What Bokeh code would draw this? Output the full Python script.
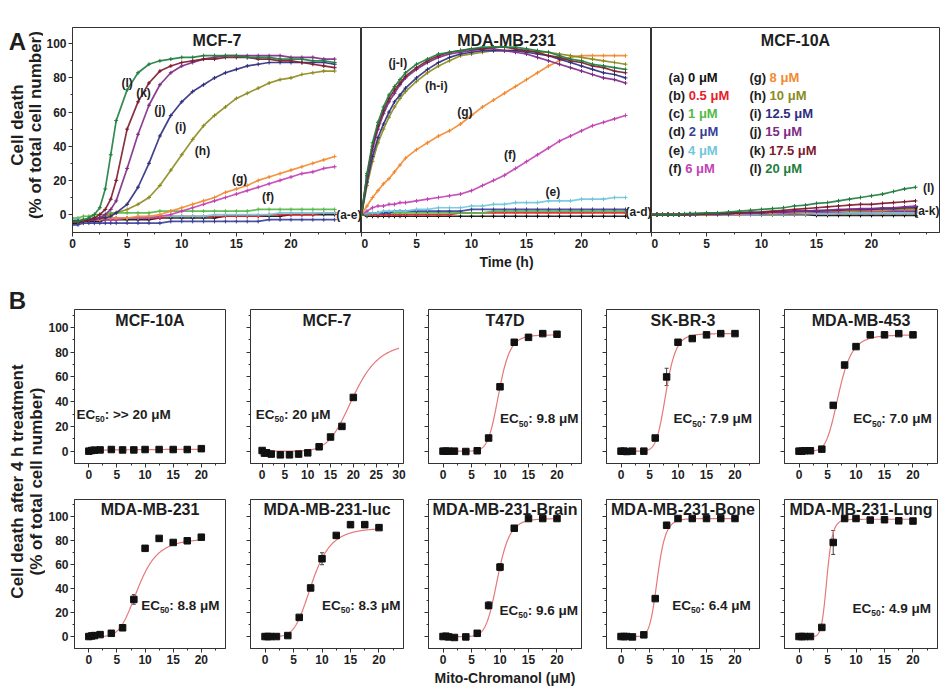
import numpy as np
from bokeh.plotting import figure
from bokeh.layouts import row, column
from bokeh.models import Range1d, FixedTicker, ColumnDataSource, Whisker, TeeHead
from bokeh.core.properties import value
from bokeh.embed import file_html
from bokeh.resources import INLINE

FONT = "Liberation Sans"
INK = "#1e1e1e"

# ------------------------------------------------------------------ data (panel A)
TIME = [0, 0.5, 1, 1.5, 2, 2.5, 3, 3.5, 4, 5, 6, 7, 8, 9, 10, 11, 12, 13, 14,
        15, 16, 17, 18, 19, 20, 21, 22, 23, 24]
SERIES_LETTERS = ["a", "b", "c", "d", "e", "f", "g", "h", "i", "j", "k", "l"]
CONC_LABELS = ["0 μM", "0.5 μM", "1 μM", "2 μM", "4 μM", "6 μM", "8 μM",
               "10 μM", "12.5 μM", "15 μM", "17.5 μM", "20 μM"]
SERIES_COLORS = ["#111111", "#e8202a", "#55b848", "#3b3f9a", "#72c6dc", "#c342b5",
                 "#f28a30", "#8b8b1e", "#2e2e7e", "#7e2a86", "#7e1a2e", "#1f7d3e"]

MCF7_a = [-5, -5, -4, -4, -4, -4, -3, -3, -3, -3, -3, -3, -2, -2, -2, -2, -2, -2, -1, -1, -1, -1, -1, -1, 0, 0, 0, 0, 0]
MCF7_b = [-3, -3, -3, -3, -2, -2, -2, -2, -2, -2, -2, -2, -2, -1, -1, -1, -1, -1, -1, -1, -1, -1, 0, 0, 0, 0, 0, 1, 1]
MCF7_c = [-2, -2, -1, -1, 0, 0, 0, 1, 1, 1, 1, 1, 2, 2, 2, 2, 2, 2, 2, 2, 2, 3, 3, 3, 3, 3, 3, 3, 3]
MCF7_d = [-6, -6, -5, -5, -5, -5, -5, -5, -5, -5, -5, -5, -5, -4, -4, -4, -4, -4, -4, -4, -4, -4, -3, -3, -3, -3, -3, -3, -3]
MCF7_e = [-3, -3, -3, -3, -2, -2, -2, -2, -2, -2, -2, -1, -1, -1, -1, -1, -1, 0, 0, 0, 0, 0, 0, 1, 1, 1, 1, 1, 1]
MCF7_f = [-4, -4, -4, -3, -3, -3, -3, -3, -3, -2, -2, -2, -1, 0, 2, 4, 6, 8, 10, 12, 14, 16, 18, 20, 22, 24, 25, 27, 28]
MCF7_g = [-4, -4, -3, -3, -3, -3, -2, -2, -2, -2, -1, -1, 0, 2, 4, 6, 8, 10, 13, 15, 17, 20, 22, 24, 26, 28, 30, 32, 34]
MCF7_h = [-4, -4, -3, -3, -2, -2, -1, 0, 1, 3, 6, 10, 17, 26, 35, 44, 52, 58, 63, 68, 71, 74, 77, 79, 80, 82, 83, 84, 84]
MCF7_i = [-4, -4, -4, -3, -3, -2, -2, -1, 1, 6, 16, 30, 46, 58, 66, 72, 76, 80, 83, 85, 87, 88, 89, 89, 89, 89, 89, 89, 88]
MCF7_j = [-4, -4, -4, -3, -3, -2, 0, 3, 8, 27, 47, 64, 76, 83, 87, 89, 91, 92, 93, 93, 93, 93, 93, 93, 92, 92, 92, 91, 91]
MCF7_k = [-4, -4, -4, -3, -2, 0, 3, 9, 20, 50, 66, 77, 84, 87, 89, 90, 91, 91, 92, 92, 92, 91, 91, 90, 90, 89, 88, 87, 86]
MCF7_l = [-4, -4, -3, -2, 0, 4, 15, 35, 55, 73, 83, 88, 90, 91, 92, 92, 93, 93, 93, 93, 92, 92, 92, 91, 91, 91, 90, 90, 89]

MDA_a = [0, -1, -1, -1, -1, -1, -1, -1, -1, -1, -1, -1, -1, -1, -1, -1, -1, -1, -1, -1, -1, -1, -1, -1, -1, -1, -1, -1, -1]
MDA_b = [0, 0, 0, 0, 0, 0, 0, 0, 0, 0, 0, 0, 0, 1, 1, 1, 1, 1, 1, 1, 1, 1, 1, 1, 1, 1, 1, 1, 1]
MDA_c = [0, 0, 1, 1, 1, 1, 1, 1, 1, 1, 1, 1, 1, 1, 1, 1, 2, 2, 2, 2, 2, 2, 2, 2, 2, 2, 2, 2, 2]
MDA_d = [0, 1, 1, 1, 1, 1, 2, 2, 2, 2, 2, 2, 2, 2, 3, 3, 3, 3, 3, 3, 3, 3, 3, 3, 3, 3, 3, 3, 3]
MDA_e = [0, 1, 1, 1, 2, 2, 2, 2, 2, 3, 3, 4, 4, 4, 5, 5, 6, 6, 7, 7, 7, 8, 8, 8, 9, 9, 9, 10, 10]
MDA_f = [0, 2, 4, 5, 5, 6, 6, 7, 7, 8, 9, 10, 11, 12, 14, 17, 20, 23, 27, 31, 35, 39, 43, 46, 49, 52, 54, 56, 58]
MDA_g = [0, 5, 10, 14, 18, 21, 25, 29, 33, 38, 42, 46, 49, 53, 58, 63, 67, 71, 75, 79, 83, 87, 90, 92, 93, 93, 93, 93, 93]
MDA_h = [0, 17, 31, 42, 50, 57, 63, 68, 72, 78, 83, 87, 90, 93, 94, 95, 96, 96, 96, 96, 95, 95, 94, 93, 92, 91, 90, 89, 88]
MDA_i = [0, 19, 34, 45, 53, 60, 66, 70, 74, 80, 85, 89, 92, 94, 95, 96, 96, 96, 96, 95, 94, 93, 91, 89, 87, 85, 83, 82, 80]
MDA_j = [0, 22, 38, 50, 59, 66, 71, 76, 80, 85, 89, 92, 94, 95, 96, 97, 97, 96, 95, 94, 92, 90, 88, 86, 84, 82, 80, 79, 77]
MDA_k = [0, 23, 40, 52, 61, 68, 73, 77, 81, 86, 90, 93, 95, 96, 97, 97, 98, 98, 97, 96, 95, 93, 92, 90, 89, 87, 86, 84, 83]
MDA_l = [0, 24, 42, 54, 63, 70, 75, 79, 83, 88, 91, 94, 95, 96, 97, 98, 98, 98, 98, 97, 96, 95, 93, 91, 90, 88, 87, 86, 85]

MCF10A_a = [0, 0, 0, 0, 0, 0, 0, 0, 0, 0, 0, 0, 0, 0, 0, 0, 0, 0, 0, -0.5, -0.5, -0.5, -0.5, -0.5, -0.5, -0.5, -0.5, -0.5, -0.5]
MCF10A_b = [0, 0, 0, 0, 0, 0, 0, 0, 0, 0, 0, 0, 0, 0.5, 0.5, 0.5, 0.5, 0.5, 0.5, 0.5, 1, 1, 1, 1, 1, 1, 1, 1, 1]
MCF10A_c = [0, 0, 0, 0, 0, 0, 0, 0, 0, 0, 0, 0, 0.5, 0.5, 0.5, 0.5, 0.5, 1, 1, 1, 1, 1, 1, 1.5, 1.5, 1.5, 1.5, 1.5, 1.5]
MCF10A_d = [0, 0, 0, 0, 0, 0, 0, 0, 0, 0, 0, 0.5, 0.5, 0.5, 0.5, 1, 1, 1, 1, 1, 1.5, 1.5, 1.5, 1.5, 1.5, 2, 2, 2, 2]
MCF10A_e = [0, 0, 0, 0, 0, 0, 0, 0, 0, 0, 0, 0, 0, 0, 0.5, 0.5, 0.5, 0.5, 0.5, 0.5, 0.5, 1, 1, 1, 1, 1, 1, 1, 1]
MCF10A_f = [0, 0, 0, 0, 0, 0, 0, 0, 0, 0, 0, 0.5, 0.5, 0.5, 1, 1, 1, 1, 1.5, 1.5, 1.5, 1.5, 2, 2, 2, 2, 2.5, 2.5, 2.5]
MCF10A_g = [0, 0, 0, 0, 0, 0, 0, 0, 0, 0, 0.5, 0.5, 0.5, 1, 1, 1, 1.5, 1.5, 1.5, 2, 2, 2, 2, 2.5, 2.5, 2.5, 3, 3, 3]
MCF10A_h = [0, 0, 0, 0, 0, 0, 0, 0, 0, 0, 0.5, 0.5, 1, 1, 1, 1.5, 1.5, 1.5, 2, 2, 2, 2.5, 2.5, 2.5, 3, 3, 3, 3.5, 3.5]
MCF10A_i = [0, 0, 0, 0, 0, 0, 0, 0, 0, 0.5, 0.5, 0.5, 1, 1, 1, 1.5, 1.5, 2, 2, 2, 2.5, 2.5, 3, 3, 3, 3.5, 3.5, 4, 4]
MCF10A_j = [0, 0, 0, 0, 0, 0, 0, 0, 0.5, 0.5, 0.5, 0.5, 1, 1, 1, 1.5, 1.5, 2, 2, 2.5, 2.5, 3, 3, 3.5, 3.5, 4, 4, 4.5, 5]
MCF10A_k = [0, 0, 0, 0, 0, 0, 0, 0.5, 0.5, 0.5, 0.5, 1, 1, 1.5, 1.5, 2, 2.5, 3, 3.5, 4, 4.5, 5, 5.5, 6, 6, 6.5, 7, 7.5, 8]
MCF10A_l = [0, 0, 0, 0, 0, 0, 0.5, 0.5, 0.5, 1, 1, 1.5, 2, 2.5, 3, 3.5, 4, 5, 5.5, 6.5, 7, 8, 9, 10, 11, 12, 13.5, 15, 16]

A_PANEL_TITLES = ["MCF-7", "MDA-MB-231", "MCF-10A"]
A_X_TICKS = [0, 5, 10, 15, 20]
A_X_MINOR = [2.5, 7.5, 12.5, 17.5, 22.5, 25]
A_Y_TICKS = [0, 20, 40, 60, 80, 100]
A_Y_MINOR = [10, 30, 50, 70, 90]

# curve annotations (text, t, value) per panel
A_NOTES_MCF7 = ["(l)", "(k)", "(j)", "(i)", "(h)", "(g)", "(f)"]
A_NOTES_MCF7_T = [5.0, 6.5, 8.0, 9.9, 11.9, 15.3, 17.9]
A_NOTES_MCF7_V = [77, 71, 61, 51, 37, 21, 10]
A_NOTES_MDA = ["(j-l)", "(h-i)", "(g)", "(f)", "(e)"]
A_NOTES_MDA_T = [3.3, 6.8, 9.4, 13.5, 17.4]
A_NOTES_MDA_V = [89, 75, 60, 35, 13]

# ------------------------------------------------------------------ data (panel B)
CONC = [0, 0.5, 1, 2, 4, 6, 8, 10, 12.5, 15, 17.5, 20]
B_TITLES = ["MCF-10A", "MCF-7", "T47D", "SK-BR-3", "MDA-MB-453",
            "MDA-MB-231", "MDA-MB-231-luc", "MDA-MB-231-Brain", "MDA-MB-231-Bone", "MDA-MB-231-Lung"]
B_MCF10A = [0, 0.5, 0.8, 1, 1.3, 1, 1, 1.3, 1.3, 1.3, 1.3, 2]
B_MCF7 = [0.5, -1.6, -1.4, -2.4, -3, -3, -2.4, -1.4, 3.5, 11.4, 20, 43.4]
B_T47D = [0, 0, 0, 0, -0.3, 0.3, 10.6, 52, 88, 92, 95, 94.5]
B_SKBR3 = [0, 0, -0.3, 0, 0, 10.6, 60, 88, 91, 94, 95, 95]
B_MDA453 = [0, 0, 0.3, 0.3, 1.6, 37, 69.6, 84.5, 94, 94, 95, 94]
B_MDA231 = [0, 0.5, 0.8, 1.6, 2.7, 7.3, 31, 73.7, 82, 78.6, 80, 83]
B_LUC = [0, 0, 0, 0, 0.8, 16, 40.6, 65, 84.5, 93.5, 93.5, 91]
B_BRAIN = [0, 0.3, -0.3, -0.8, -0.3, 2.7, 26, 58, 90.5, 98.6, 98.6, 98.6]
B_BONE = [0, 0, 0, -0.3, 1.4, 31.7, 93, 98.6, 98.6, 98.6, 98.6, 98.6]
B_LUNG = [0, 0, 0, 0, 7.6, 78.6, 98.6, 98.6, 97.3, 97.6, 96.7, 96.5]

E_MCF10A = [0.5, 0.5, 0.5, 0.5, 0.5, 0.5, 0.5, 0.5, 0.5, 0.5, 0.5, 0.5]
E_MCF7 = [1, 1, 1, 0.5, 0.5, 0.5, 0.5, 1, 1, 1.5, 1.5, 1]
E_T47D = [0.5, 0.5, 0.5, 0.5, 0.5, 0.5, 1, 1, 1, 1, 1, 1]
E_SKBR3 = [0.5, 0.5, 0.5, 0.5, 0.5, 1, 7, 1, 1, 1, 1, 1]
E_MDA453 = [0.5, 0.5, 0.5, 0.5, 0.5, 1, 1.5, 1, 1, 1, 1, 1]
E_MDA231 = [0.5, 0.5, 0.5, 0.5, 0.5, 1, 4, 2, 1, 1, 1, 1]
E_LUC = [0.5, 0.5, 0.5, 0.5, 0.5, 1, 1.5, 5, 1.5, 1, 1, 1]
E_BRAIN = [0.5, 0.5, 0.5, 0.5, 0.5, 1, 3, 3, 2, 1, 1, 1]
E_BONE = [0.5, 0.5, 0.5, 0.5, 0.5, 1, 1, 1, 1, 1, 1, 1]
E_LUNG = [0.5, 0.5, 0.5, 0.5, 1.5, 10, 1, 1, 1, 1, 1, 1]

# four-parameter logistic fit parameters
FIT_BOTTOM = [0.3, 0, 0, 0, 0, 0, 0, 0, 0, 0]
FIT_TOP = [1.8, 88, 94, 95, 94, 82, 91, 98.6, 98.6, 98]
FIT_EC50 = [6, 20, 9.8, 7.9, 7.0, 8.8, 8.3, 9.6, 6.4, 4.9]
FIT_HILL = [1, 7, 10, 9, 6, 5, 5, 9, 9, 10]
FIT_XMAX = [20, 30, 20, 20, 20, 20, 20, 20, 20, 20]

EC50_TEXT = [">> 20 μM", "20 μM", "9.8 μM", "7.9 μM", "7.0 μM",
             "8.8 μM", "8.3 μM", "9.6 μM", "6.4 μM", "4.9 μM"]
EC50_X = [-2.2, -1.4, 10.0, 9.2, 9.5, 9.3, 10.0, 9.9, 9.0, 9.4]
EC50_Y = [30, 30, 26, 26, 26, 26, 26, 22, 26, 23.6]

B_X_TICKS = [0, 5, 10, 15, 20]
B_X_MINOR = [2.5, 7.5, 12.5, 17.5, 22.5]
B_X_TICKS_WIDE = [0, 5, 10, 15, 20, 25, 30]
B_X_MINOR_WIDE = [2.5, 7.5, 12.5, 17.5, 22.5, 27.5]
B_Y_TICKS = [0, 20, 40, 60, 80, 100]
B_Y_MINOR = [10, 30, 50, 70, 90, 110]

# ------------------------------------------------------------------ layout constants
LAB_W_A, LAB_W_B = 43, 45
H_A, A_TOP, A_BOTTOM = 272, 27, 40
A_FRAMES = [291, 290, 288]
PX_PER_H = 11.0
A_YRANGE = (-10.5, 109.5)
B_FRAME_W, B_FRAME_H = 153, 154
B_XRANGE = (-2.55, 24.3)
B_XRANGE_WIDE = (-2.55, 31.0)
B_YRANGE = (-10, 114.5)
B_ROW_BORDERS = [(37, 22), (14, 35)]


def style_axes(p):
    for ax in list(p.xaxis) + list(p.yaxis):
        ax.major_label_text_font = FONT
        ax.major_label_text_font_style = "bold"
        ax.major_label_text_font_size = "12px"
        ax.major_label_text_color = INK
        ax.major_label_standoff = 2
        ax.major_tick_in = 0
        ax.major_tick_out = 4
        ax.minor_tick_in = 0
        ax.minor_tick_out = 2
        ax.axis_line_color = "#333333"
        ax.major_tick_line_color = "#333333"
        ax.minor_tick_line_color = "#333333"
        ax.axis_label_text_font = FONT
        ax.axis_label_text_font_style = "bold"
        ax.axis_label_text_font_size = "14px"
        ax.axis_label_text_color = INK
        ax.axis_label_standoff = 3


def base_style(p):
    p.xgrid.grid_line_color = None
    p.ygrid.grid_line_color = None
    p.outline_line_color = "#333333"
    p.outline_line_width = 1
    p.background_fill_color = "white"
    p.border_fill_color = "white"


def add_text(p, xs, ys, texts, size, color=INK, align="left", baseline="middle",
             angle=0.0, x_offset=0, y_offset=0):
    src = ColumnDataSource(dict(x=xs, y=ys, text=texts))
    p.text(x="x", y="y", text="text", source=src, text_font=value(FONT),
           text_font_style="bold", text_font_size=value(size), text_color=color,
           text_align=align, text_baseline=baseline, angle=angle,
           x_offset=x_offset, y_offset=y_offset)


def label_figure(width, height):
    p = figure(width=width, height=height, x_range=Range1d(0, width), y_range=Range1d(0, height),
               output_backend="svg", toolbar_location=None, x_axis_location=None,
               y_axis_location=None, min_border=0)
    p.xgrid.grid_line_color = None
    p.ygrid.grid_line_color = None
    p.outline_line_color = None
    return p


# ------------------------------------------------------------------ panel A
A_DATA = [
    [MCF7_a, MCF7_b, MCF7_c, MCF7_d, MCF7_e, MCF7_f, MCF7_g, MCF7_h, MCF7_i, MCF7_j, MCF7_k, MCF7_l],
    [MDA_a, MDA_b, MDA_c, MDA_d, MDA_e, MDA_f, MDA_g, MDA_h, MDA_i, MDA_j, MDA_k, MDA_l],
    [MCF10A_a, MCF10A_b, MCF10A_c, MCF10A_d, MCF10A_e, MCF10A_f, MCF10A_g, MCF10A_h,
     MCF10A_i, MCF10A_j, MCF10A_k, MCF10A_l],
]

a_figs = []
for idx in range(3):
    show_y = idx == 0
    bl = 27 if show_y else 0
    br = 1 if idx == 2 else 0
    xmax = A_FRAMES[idx] / PX_PER_H
    p = figure(width=bl + A_FRAMES[idx] + br, height=H_A,
               x_range=Range1d(0, xmax), y_range=Range1d(*A_YRANGE),
               output_backend="svg", toolbar_location=None,
               y_axis_location="left" if show_y else None,
               min_border_left=bl, min_border_right=br,
               min_border_top=A_TOP, min_border_bottom=A_BOTTOM)
    base_style(p)
    p.xaxis.ticker = FixedTicker(ticks=A_X_TICKS, minor_ticks=A_X_MINOR)
    if show_y:
        p.yaxis.ticker = FixedTicker(ticks=A_Y_TICKS, minor_ticks=A_Y_MINOR)
    if idx == 1:
        p.xaxis.axis_label = "Time (h)"
    style_axes(p)
    for s, vals in enumerate(A_DATA[idx]):
        c = SERIES_COLORS[s]
        p.line(TIME, vals, line_color=c, line_width=1.7, line_alpha=0.9)
        p.scatter(TIME, vals, marker="cross", size=4, line_color=c, line_width=1)
    add_text(p, [xmax / 2], [102], [A_PANEL_TITLES[idx]], "16px", align="center")
    a_figs.append(p)

f1, f2, f3 = a_figs
add_text(f1, A_NOTES_MCF7_T, A_NOTES_MCF7_V, A_NOTES_MCF7, "12px", align="center")
add_text(f1, [A_FRAMES[0] / PX_PER_H], [0], ["(a-e)"], "12px", align="right")
add_text(f2, A_NOTES_MDA_T, A_NOTES_MDA_V, A_NOTES_MDA, "12px", align="center")
add_text(f2, [A_FRAMES[1] / PX_PER_H], [1.5], ["(a-d)"], "12px", align="right")
add_text(f3, [25.2], [15.5], ["(l)"], "12px", align="center")
add_text(f3, [A_FRAMES[2] / PX_PER_H], [2], ["(a-k)"], "12px", align="right")

# legend inside the MCF-10A time-course panel
LEG_COL_X = [1.55, 8.9]
LEG_ROW_Y0, LEG_ROW_STEP = 80.5, -10.7
CHAR_W = {"(": 0.333, ")": 0.333, " ": 0.278, "a": 0.556, "b": 0.611, "c": 0.556,
          "d": 0.611, "e": 0.556, "f": 0.333, "g": 0.611, "h": 0.611, "i": 0.278,
          "j": 0.278, "k": 0.556, "l": 0.278}
LEG_SIZE = 13
leg_x, leg_y, leg_pre, leg_val, leg_off, leg_col = [], [], [], [], [], []
for s, letter in enumerate(SERIES_LETTERS):
    col, r = divmod(s, 6)
    pre = "(" + letter + ")"
    leg_x.append(LEG_COL_X[col])
    leg_y.append(LEG_ROW_Y0 + r * LEG_ROW_STEP)
    leg_pre.append(pre)
    leg_val.append(CONC_LABELS[s])
    leg_off.append(sum(CHAR_W[ch] for ch in pre + " ") * LEG_SIZE)
    leg_col.append(SERIES_COLORS[s])
src_leg = ColumnDataSource(dict(x=leg_x, y=leg_y, pre=leg_pre, val=leg_val, off=leg_off, c=leg_col))
f3.text(x="x", y="y", text="pre", source=src_leg, text_font=value(FONT), text_font_style="bold",
        text_font_size=value(f"{LEG_SIZE}px"), text_color=INK, text_baseline="middle")
f3.text(x="x", y="y", text="val", source=src_leg, x_offset="off", text_font=value(FONT),
        text_font_style="bold", text_font_size=value(f"{LEG_SIZE}px"), text_color="c",
        text_baseline="middle")

labA = label_figure(LAB_W_A, H_A)
add_text(labA, [17], [H_A - 18], ["A"], "24px", align="center")
a_mid = H_A - A_TOP - (H_A - A_TOP - A_BOTTOM) / 2
add_text(labA, [17, 34.5], [a_mid, a_mid], ["Cell death", "(% of total cell number)"],
         "17px", align="center", angle=np.pi / 2)

row_a = row(labA, f1, f2, f3)

# ------------------------------------------------------------------ panel B
B_VALUES = [B_MCF10A, B_MCF7, B_T47D, B_SKBR3, B_MDA453, B_MDA231, B_LUC, B_BRAIN, B_BONE, B_LUNG]
B_ERRORS = [E_MCF10A, E_MCF7, E_T47D, E_SKBR3, E_MDA453, E_MDA231, E_LUC, E_BRAIN, E_BONE, E_LUNG]
EC_SIZE, SUB_SIZE = 13.5, 8.5
EC_W = (0.667 + 0.722) * EC_SIZE
SUB_W = 2 * 0.556 * SUB_SIZE

b_rows = [[], []]
for k in range(10):
    r, cidx = divmod(k, 5)
    first = cidx == 0
    bl = 27 if first else 22
    br = 3
    bt, bb = B_ROW_BORDERS[r]
    wide = FIT_XMAX[k] > 20
    xr = B_XRANGE_WIDE if wide else B_XRANGE
    p = figure(width=bl + B_FRAME_W + br, height=bt + B_FRAME_H + bb, x_range=Range1d(*xr),
               y_range=Range1d(*B_YRANGE), output_backend="svg", toolbar_location=None,
               min_border_left=bl, min_border_right=br, min_border_top=bt, min_border_bottom=bb)
    base_style(p)
    if wide:
        p.xaxis.ticker = FixedTicker(ticks=B_X_TICKS_WIDE, minor_ticks=B_X_MINOR_WIDE)
    else:
        p.xaxis.ticker = FixedTicker(ticks=B_X_TICKS, minor_ticks=B_X_MINOR)
    p.yaxis.ticker = FixedTicker(ticks=B_Y_TICKS, minor_ticks=B_Y_MINOR)
    if not first:
        p.yaxis.major_label_overrides = {t: "" for t in B_Y_TICKS}
    if r == 1 and cidx == 2:
        p.xaxis.axis_label = "Mito-Chromanol (μM)"
    style_axes(p)

    # fitted logistic curve
    xs = np.linspace(0, FIT_XMAX[k], 300)
    n = FIT_HILL[k]
    ys = FIT_BOTTOM[k] + (FIT_TOP[k] - FIT_BOTTOM[k]) * xs ** n / (FIT_EC50[k] ** n + xs ** n)
    p.line(xs, ys, line_color="#e5787a", line_width=1.2)

    vals = np.array(B_VALUES[k], dtype=float)
    errs = np.array(B_ERRORS[k], dtype=float)
    src = ColumnDataSource(dict(x=CONC, y=vals, lo=vals - errs, hi=vals + errs))
    w = Whisker(base="x", upper="hi", lower="lo", source=src, line_color="#444444", line_width=1,
                upper_head=TeeHead(size=4, line_color="#444444"),
                lower_head=TeeHead(size=4, line_color="#444444"))
    p.add_layout(w)
    p.scatter("x", "y", source=src, marker="square", size=6.5, fill_color="#111111",
              line_color="#111111")

    add_text(p, [(xr[0] + xr[1]) / 2], [106], [B_TITLES[k]], "16px", align="center")
    add_text(p, [EC50_X[k]], [EC50_Y[k]], ["EC"], f"{EC_SIZE}px")
    add_text(p, [EC50_X[k]], [EC50_Y[k]], ["50"], f"{SUB_SIZE}px", x_offset=EC_W, y_offset=5)
    add_text(p, [EC50_X[k]], [EC50_Y[k]], [": " + EC50_TEXT[k]], f"{EC_SIZE}px",
             x_offset=EC_W + SUB_W)
    b_rows[r].append(p)

H_B_TOTAL = sum(bt + B_FRAME_H + bb for bt, bb in B_ROW_BORDERS)
labB = label_figure(LAB_W_B, H_B_TOTAL)
add_text(labB, [17], [H_B_TOTAL - 28], ["B"], "24px", align="center")
top_frame = B_ROW_BORDERS[0][0]
row1_h = B_ROW_BORDERS[0][0] + B_FRAME_H + B_ROW_BORDERS[0][1]
bottom_frame = row1_h + B_ROW_BORDERS[1][0] + B_FRAME_H
b_mid = H_B_TOTAL - (top_frame + bottom_frame) / 2
add_text(labB, [17, 36], [b_mid, b_mid],
         ["Cell death after 4 h treatment", "(% of total cell number)"],
         "17px", align="center", angle=np.pi / 2)

row_b = row(labB, column(row(*b_rows[0]), row(*b_rows[1])))
layout = column(row_a, row_b)

open("out.html", "w").write(file_html(layout, INLINE))
